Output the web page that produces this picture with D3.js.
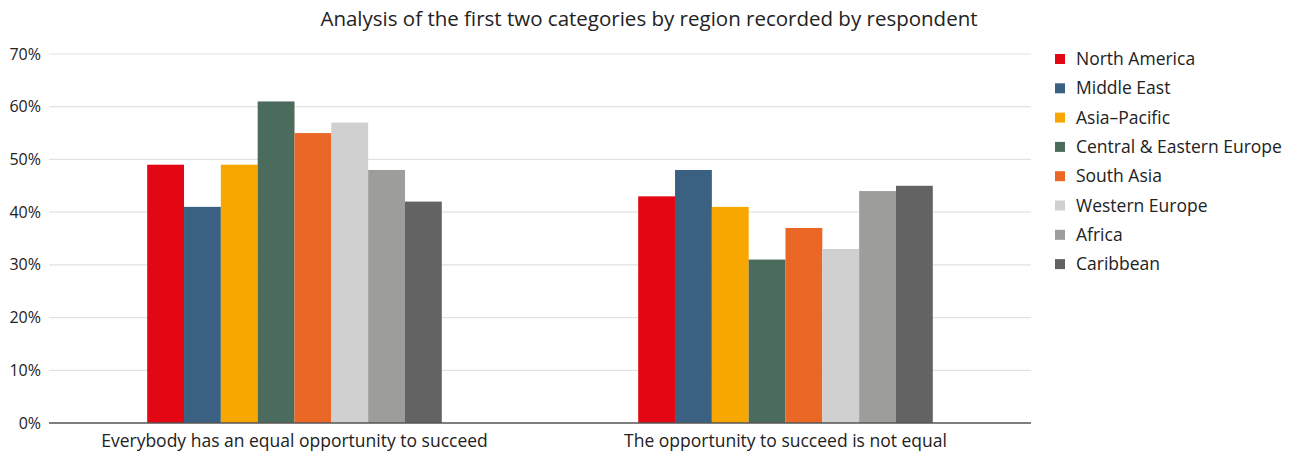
<!DOCTYPE html>
<html>
<head>
<meta charset="utf-8">
<script src="https://cdn.jsdelivr.net/npm/d3@7"></script>
<style>
  body { margin: 0; background: #fff; }
  text { font-family: "Open Sans", "Noto Sans", sans-serif; fill: #222; }
</style>
</head>
<body>
<svg width="1298" height="455"></svg>
<script>
var categories = ["Everybody has an equal opportunity to succeed", "The opportunity to succeed is not equal"];
var regions = ["North America", "Middle East", "Asia\u2013Pacific", "Central & Eastern Europe",
               "South Asia", "Western Europe", "Africa", "Caribbean"];
var colors = ["#e30613", "#3a6182", "#f7a700", "#4b6b5c", "#eb6726", "#d0d0d0", "#9d9d9c", "#636363"];
var equalValues = [49, 41, 49, 61, 55, 57, 48, 42];
var notEqualValues = [43, 48, 41, 31, 37, 33, 44, 45];
var yTicks = [0, 10, 20, 30, 40, 50, 60, 70];

var series = [equalValues, notEqualValues];

var svg = d3.select("svg"),
    margin = {left: 49, right: 267, top: 54, bottom: 32},
    width = +svg.attr("width") - margin.left - margin.right,
    height = +svg.attr("height") - margin.top - margin.bottom;

var g = svg.append("g").attr("transform", "translate(" + margin.left + "," + margin.top + ")");

var x0 = d3.scaleBand().domain(categories).range([0, width]).paddingInner(0.4).paddingOuter(0.2);
var x1 = d3.scaleBand().domain(regions).range([0, x0.bandwidth()]);
var y = d3.scaleLinear().domain([0, 70]).range([height, 0]);

// gridlines
g.selectAll(".grid")
  .data(yTicks.slice(1))
  .enter().append("line")
    .attr("x1", 0).attr("x2", width)
    .attr("y1", function(d) { return y(d); })
    .attr("y2", function(d) { return y(d); })
    .attr("stroke", "#e2e2e2")
    .attr("stroke-width", 1.2);

// y labels
g.selectAll(".ylab")
  .data(yTicks)
  .enter().append("text")
    .attr("x", -8)
    .attr("y", function(d) { return y(d); })
    .attr("dy", "0.35em")
    .attr("text-anchor", "end")
    .style("font-size", "16px")
    .text(function(d) { return d + "%"; });

// bars
var groups = g.selectAll(".group")
  .data(categories)
  .enter().append("g")
    .attr("transform", function(d) { return "translate(" + x0(d) + ",0)"; });

groups.selectAll("rect")
  .data(function(d, i) { return series[i].map(function(v, j) { return {region: regions[j], value: v, color: colors[j]}; }); })
  .enter().append("rect")
    .attr("x", function(d) { return x1(d.region); })
    .attr("width", x1.bandwidth())
    .attr("y", function(d) { return y(d.value); })
    .attr("height", function(d) { return height - y(d.value); })
    .attr("fill", function(d) { return d.color; });

// x axis line
g.append("line")
  .attr("x1", 0).attr("x2", width)
  .attr("y1", height).attr("y2", height)
  .attr("stroke", "#555")
  .attr("stroke-width", 1.5);

// category labels
g.selectAll(".xlab")
  .data(categories)
  .enter().append("text")
    .attr("x", function(d) { return x0(d) + x0.bandwidth() / 2; })
    .attr("y", height + 24)
    .attr("text-anchor", "middle")
    .style("font-size", "17.5px")
    .text(function(d) { return d; });

// title
svg.append("text")
  .attr("x", 649)
  .attr("y", 26)
  .attr("text-anchor", "middle")
  .style("font-size", "20.5px")
  .text("Analysis of the first two categories by region recorded by respondent");

// legend
var legend = svg.selectAll(".legend")
  .data(regions)
  .enter().append("g")
    .attr("transform", function(d, i) { return "translate(1055," + (59 + i * 29.3) + ")"; });

legend.append("rect")
  .attr("x", 0).attr("y", -5)
  .attr("width", 10).attr("height", 10)
  .attr("fill", function(d, i) { return colors[i]; });

legend.append("text")
  .attr("x", 21)
  .attr("dy", "0.35em")
  .style("font-size", "17.5px")
  .text(function(d) { return d; });
</script>
</body>
</html>
